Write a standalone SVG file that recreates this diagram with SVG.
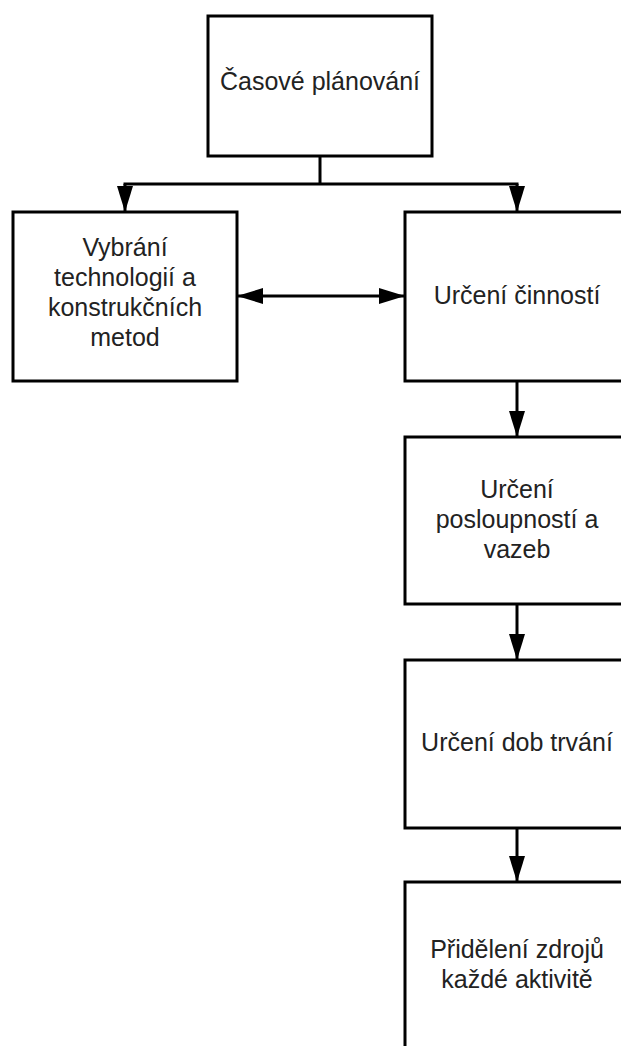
<svg xmlns="http://www.w3.org/2000/svg" width="621" height="1046" viewBox="0 0 621 1046">
  <style>
    .box { fill: #ffffff; stroke: #000000; stroke-width: 3; }
    .label { font-family: "Liberation Sans", Arial, sans-serif; font-size: 25px; fill: #222222; text-anchor: middle; }
    .wire { fill: none; stroke: #000000; stroke-width: 3; }
  </style>
  <defs>
    <marker id="arrow" markerUnits="userSpaceOnUse" markerWidth="26" markerHeight="16" refX="26" refY="8" orient="auto-start-reverse" viewBox="0 0 26 16">
      <path d="M0,0 L26,8 L0,16 Z" fill="#000000"/>
    </marker>
  </defs>
  <rect width="621" height="1046" fill="#ffffff"/>

  <g id="connectors">
    <!-- split from the root node to both branches -->
    <path class="wire" d="M320,156 V184"/>
    <path class="wire" d="M123.5,184 H518.5"/>
    <path class="wire" d="M125,184 V212" marker-end="url(#arrow)"/>
    <path class="wire" d="M517,184 V212" marker-end="url(#arrow)"/>
    <!-- two-way link between the branches -->
    <path class="wire" d="M237,296 H405" marker-start="url(#arrow)" marker-end="url(#arrow)"/>
    <!-- chain on the right -->
    <path class="wire" d="M517,381 V437" marker-end="url(#arrow)"/>
    <path class="wire" d="M517,604 V660" marker-end="url(#arrow)"/>
    <path class="wire" d="M517,828 V882" marker-end="url(#arrow)"/>
  </g>

  <g id="node-casove-planovani">
    <rect class="box" x="208" y="16" width="224" height="140"/>
    <text class="label" x="320" y="90">Časové plánování</text>
  </g>

  <g id="node-vybrani-technologii">
    <rect class="box" x="13" y="212" width="224" height="169"/>
    <text class="label" x="125" y="256">Vybrání</text>
    <text class="label" x="125" y="286">technologií a</text>
    <text class="label" x="125" y="316">konstrukčních</text>
    <text class="label" x="125" y="346">metod</text>
  </g>

  <g id="node-urceni-cinnosti">
    <rect class="box" x="405" y="212" width="224" height="169"/>
    <text class="label" x="517" y="304">Určení činností</text>
  </g>

  <g id="node-urceni-posloupnosti">
    <rect class="box" x="405" y="437" width="224" height="167"/>
    <text class="label" x="517" y="498">Určení</text>
    <text class="label" x="517" y="528">posloupností a</text>
    <text class="label" x="517" y="558">vazeb</text>
  </g>

  <g id="node-urceni-dob-trvani">
    <rect class="box" x="405" y="660" width="224" height="168"/>
    <text class="label" x="517" y="751">Určení dob trvání</text>
  </g>

  <g id="node-prideleni-zdroju">
    <rect class="box" x="405" y="882" width="224" height="170"/>
    <text class="label" x="517" y="958">Přidělení zdrojů</text>
    <text class="label" x="517" y="988">každé aktivitě</text>
  </g>
</svg>
